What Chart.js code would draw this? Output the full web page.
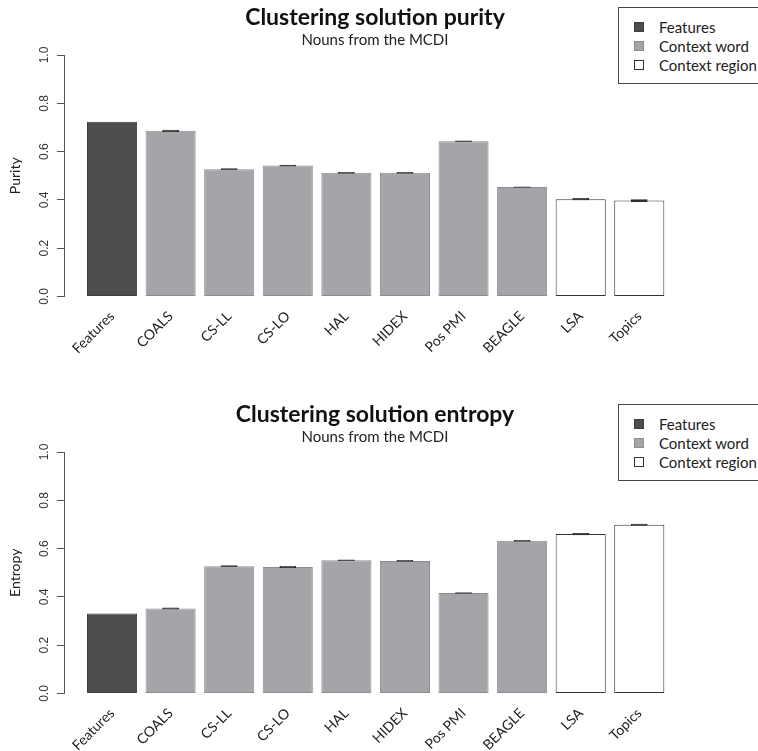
<!DOCTYPE html>
<html>
<head>
<meta charset="utf-8">
<script src="https://cdn.jsdelivr.net/npm/chart.js@4.4.1/dist/chart.umd.min.js"></script>
<style>
  html, body { margin: 0; padding: 0; background: #fff; width: 758px; height: 751px; overflow: hidden; }
  .panel { position: absolute; left: 0; width: 758px; overflow: hidden; }
  .legend { position: absolute; left: 618px; top: 7px; width: 160px; height: 77px; border: 1px solid #444; box-sizing: border-box; background: #fff; font-family: Lato, "Open Sans", sans-serif; font-size: 15px; color: #222; }
  .legend .row { position: absolute; left: 0; height: 19px; line-height: 19px; white-space: nowrap; }
  .legend .sw { position: absolute; left: 15px; top: 4px; width: 10px; height: 10px; box-sizing: border-box; }
  .legend .tx { position: absolute; left: 40px; top: 0; }
</style>
</head>
<body>
<div class="panel" id="p1" style="top:0;height:397px;"><canvas id="c1"></canvas></div>
<div class="panel" id="p2" style="top:397px;height:354px;"><canvas id="c2"></canvas></div>
<script>
// ---------- data ----------
const categories = ['Features', 'COALS', 'CS-LL', 'CS-LO', 'HAL', 'HIDEX', 'Pos PMI', 'BEAGLE', 'LSA', 'Topics'];
const groupOf    = [0, 1, 1, 1, 1, 1, 1, 1, 2, 2];
const groupNames = ['Features', 'Context word', 'Context region'];

const purity     = [0.724, 0.686, 0.527, 0.542, 0.512, 0.512, 0.643, 0.453, 0.403, 0.397];
const purityErr  = [0, 0.003, 0.003, 0.002, 0.002, 0.002, 0.002, 0.001, 0.003, 0.004];

const entropy    = [0.331, 0.352, 0.527, 0.524, 0.552, 0.549, 0.416, 0.632, 0.660, 0.699];
const entropyErr = [0, 0.003, 0.003, 0.003, 0.002, 0.002, 0.002, 0.002, 0.003, 0.003];

const yTicks = [0, 0.2, 0.4, 0.6, 0.8, 1.0];

// ---------- styles ----------
const fills   = ['#4d4d50', '#a4a5a8', '#ffffff'];
const borders = ['#3e3e40', '#8c8d90', '#333333'];
const TITLE_FONT = 'Lato, "Open Sans", sans-serif';

function makeChart(canvasId, title, yLabel, values, errs) {
  const barData = values.map((v, i) => ({ x: i, y: v }));
  const errData = values.map((v, i) => ({ x: i, y: errs[i] > 0 ? [v - errs[i], v + errs[i]] : null }));
  return new Chart(document.getElementById(canvasId), {
    type: 'bar',
    data: {
      datasets: [
        {
          data: barData,
          backgroundColor: groupOf.map(g => fills[g]),
          borderColor: groupOf.map(g => borders[g]),
          borderWidth: 1,
          borderSkipped: false,
          categoryPercentage: 1,
          barPercentage: 0.855,
          grouped: false,
          order: 2
        },
        {
          data: errData,
          backgroundColor: '#2a2a2a',
          borderColor: '#2a2a2a',
          borderWidth: 0.8,
          borderSkipped: false,
          barThickness: 16,
          grouped: false,
          order: 1
        }
      ]
    },
    options: {
      responsive: true,
      maintainAspectRatio: false,
      animation: false,
      devicePixelRatio: 1,
      layout: { padding: { left: 0, right: 8, top: 0, bottom: 0 } },
      plugins: {
        legend: { display: false },
        tooltip: { enabled: false },
        title: {
          display: true, text: title, color: '#111',
          font: { family: TITLE_FONT, size: 23, weight: 'bold' },
          padding: { top: 3.5, bottom: 0 }
        },
        subtitle: {
          display: true, text: 'Nouns from the MCDI', color: '#222',
          font: { family: TITLE_FONT, size: 15 },
          padding: { top: 0, bottom: 5.9 }
        }
      },
      scales: {
        x: {
          type: 'linear',
          offset: false,
          min: -0.82, max: 10.89,
          grid: { display: false, offset: false },
          border: { display: false },
          afterBuildTicks: s => { s.ticks = categories.map((c, i) => ({ value: i })); },
          afterFit: s => { s.height = s.chart.height - 296.5; s.paddingLeft = 0; s.paddingRight = 0; },
          ticks: {
            autoSkip: false, minRotation: 45, maxRotation: 45, padding: 0,
            color: '#222',
            font: { family: TITLE_FONT, size: 14, lineHeight: 1.9 },
            callback: v => categories[v]
          }
        },
        y: {
          min: 0, max: 1,
          afterBuildTicks: s => { s.ticks = yTicks.map(v => ({ value: v })); },
          afterFit: s => { s.width = 64; s.paddingTop = 0; s.paddingBottom = 0; },
          border: { display: true, color: '#555', width: 1 },
          grid: { display: true, drawOnChartArea: false, drawTicks: true, tickLength: 7, color: '#555' },
          ticks: {
            minRotation: 90, maxRotation: 90, crossAlign: 'center', padding: 4,
            color: '#333',
            font: { family: '"Liberation Sans", Arial, sans-serif', size: 12 },
            callback: v => v.toFixed(1)
          },
          title: {
            display: true, text: yLabel, color: '#222',
            font: { family: TITLE_FONT, size: 14 },
            padding: { top: 7, bottom: 0 }
          }
        }
      }
    }
  });
}

function addLegend(panelId) {
  const box = document.createElement('div');
  box.className = 'legend';
  groupNames.forEach((name, g) => {
    const row = document.createElement('div');
    row.className = 'row';
    row.style.top = (10 + 19 * g) + 'px';
    const sw = document.createElement('span');
    sw.className = 'sw';
    sw.style.background = fills[g];
    sw.style.border = '1px solid ' + borders[g];
    const tx = document.createElement('span');
    tx.className = 'tx';
    tx.textContent = name;
    row.appendChild(sw); row.appendChild(tx);
    box.appendChild(row);
  });
  document.getElementById(panelId).appendChild(box);
}

makeChart('c1', 'Clustering solution purity', 'Purity', purity, purityErr);
makeChart('c2', 'Clustering solution entropy', 'Entropy', entropy, entropyErr);
addLegend('p1');
addLegend('p2');
</script>
</body>
</html>
